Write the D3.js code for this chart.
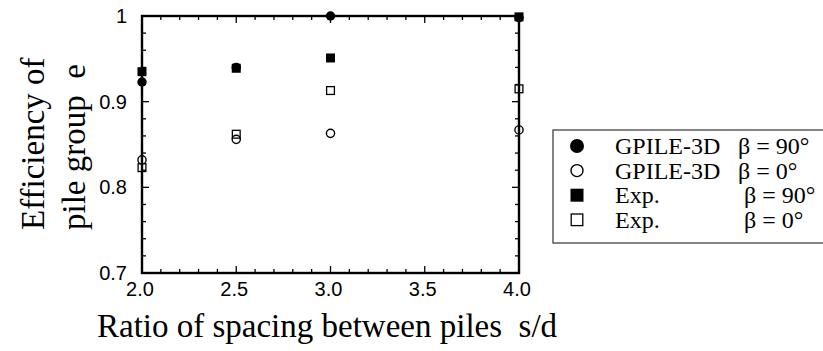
<!DOCTYPE html>
<html>
<head>
<meta charset="utf-8">
<script src="https://cdn.jsdelivr.net/npm/d3@7"></script>
<style>
  body { margin: 0; background: #fff; }
  svg { display: block; }
</style>
</head>
<body>
<svg id="chart" width="823" height="351"></svg>
<script>
// Pile spacing ratios s/d where the group efficiency was evaluated
const spacing = [2.0, 2.5, 3.0, 4.0];
// Group efficiency e for each series
const gpile90 = [0.923, 0.940, 1.000, 0.998];
const gpile0  = [0.832, 0.856, 0.863, 0.867];
const exp90   = [0.935, 0.939, 0.951, 0.999];
const exp0    = [0.823, 0.862, 0.913, 0.915];
// Axis tick values
const xMajor = [2.0, 2.5, 3.0, 3.5, 4.0];
const yMajor = [0.7, 0.8, 0.9, 1.0];
// Legend entries
const legendNames  = ["GPILE-3D", "GPILE-3D", "Exp.", "Exp."];
const legendAngles = ["β = 90°", "β = 0°", "β = 90°", "β = 0°"];

const svg = d3.select("#chart");
const plotL = 142, plotR = 519, plotT = 16, plotB = 273;

const x = d3.scaleLinear().domain([2.0, 4.0]).range([plotL, plotR]);
const y = d3.scaleLinear().domain([0.7, 1.0]).range([plotB, plotT]);

const xMinor = d3.range(20, 41).map(v => v / 10).filter(v => !xMajor.some(m => Math.abs(m - v) < 1e-9));
const yMinor = d3.range(35, 51).map(v => v / 50).filter(v => !yMajor.some(m => Math.abs(m - v) < 1e-9));

// Inward ticks on all four sides of the frame
const tickGroup = svg.append("g").attr("stroke", "#000").attr("stroke-width", 1.3);
function xticks(vals, len) {
  vals.forEach(v => {
    tickGroup.append("line").attr("x1", x(v)).attr("x2", x(v)).attr("y1", plotB).attr("y2", plotB - len);
    tickGroup.append("line").attr("x1", x(v)).attr("x2", x(v)).attr("y1", plotT).attr("y2", plotT + len);
  });
}
function yticks(vals, len) {
  vals.forEach(v => {
    tickGroup.append("line").attr("y1", y(v)).attr("y2", y(v)).attr("x1", plotL).attr("x2", plotL + len);
    tickGroup.append("line").attr("y1", y(v)).attr("y2", y(v)).attr("x1", plotR).attr("x2", plotR - len);
  });
}
xticks(xMinor, 4); xticks(xMajor, 7);
yticks(yMinor, 4); yticks(yMajor, 7);

// Frame
svg.append("rect")
  .attr("x", plotL).attr("y", plotT)
  .attr("width", plotR - plotL).attr("height", plotB - plotT)
  .attr("fill", "none").attr("stroke", "#000").attr("stroke-width", 2.4);

// Tick labels
const tickFont = "'Liberation Sans', Arial, sans-serif";
svg.append("g").selectAll("text").data(xMajor).join("text")
  .attr("x", d => x(d) - 2).attr("y", plotB + 23)
  .attr("text-anchor", "middle")
  .attr("font-family", tickFont).attr("font-size", 20)
  .text(d => d.toFixed(1));
svg.append("g").selectAll("text").data(yMajor).join("text")
  .attr("x", plotL - 15).attr("y", d => y(d) + 7)
  .attr("text-anchor", "end")
  .attr("font-family", tickFont).attr("font-size", 20)
  .text(d => d === 1 ? "1" : d.toFixed(1));

// Axis titles
const serif = "'Liberation Serif', 'Times New Roman', serif";
svg.append("text")
  .attr("x", 97).attr("y", 337)
  .attr("font-family", serif).attr("font-size", 33)
  .attr("xml:space", "preserve")
  .text("Ratio of spacing between piles  s/d");
const yTitle = svg.append("g").attr("font-family", serif).attr("font-size", 33);
yTitle.append("text")
  .attr("transform", "translate(44,230) rotate(-90)")
  .text("Efficiency of");
yTitle.append("text")
  .attr("transform", "translate(85,230) rotate(-90)")
  .attr("xml:space", "preserve")
  .text("pile group  e");

// Markers
const pts = (vals) => spacing.map((s, i) => ({ s, v: vals[i] }));
const circR = 4.7, sq = 9;
const marks = svg.append("g");
marks.selectAll(".c90").data(pts(gpile90)).join("circle")
  .attr("cx", d => x(d.s)).attr("cy", d => y(d.v)).attr("r", circR)
  .attr("fill", "#000");
marks.selectAll(".c0").data(pts(gpile0)).join("circle")
  .attr("cx", d => x(d.s)).attr("cy", d => y(d.v)).attr("r", circR - 0.6)
  .attr("fill", "none").attr("stroke", "#000").attr("stroke-width", 1.4);
marks.selectAll(".s90").data(pts(exp90)).join("rect")
  .attr("x", d => x(d.s) - sq / 2).attr("y", d => y(d.v) - sq / 2)
  .attr("width", sq).attr("height", sq).attr("fill", "#000");
marks.selectAll(".s0").data(pts(exp0)).join("rect")
  .attr("x", d => x(d.s) - sq / 2 + 0.6).attr("y", d => y(d.v) - sq / 2 + 0.6)
  .attr("width", sq - 1.2).attr("height", sq - 1.2)
  .attr("fill", "none").attr("stroke", "#000").attr("stroke-width", 1.3);

// Legend
const lg = svg.append("g");
lg.append("rect")
  .attr("x", 553).attr("y", 130).attr("width", 300).attr("height", 113)
  .attr("fill", "#fff").attr("stroke", "#333").attr("stroke-width", 1.2);
const rowY = i => 146 + i * 24.6;
const mx = 577;
lg.append("circle").attr("cx", mx).attr("cy", rowY(0)).attr("r", 7).attr("fill", "#000");
lg.append("circle").attr("cx", mx).attr("cy", rowY(1)).attr("r", 6)
  .attr("fill", "none").attr("stroke", "#000").attr("stroke-width", 1.4);
lg.append("rect").attr("x", mx - 6.5).attr("y", rowY(2) - 6.5).attr("width", 13).attr("height", 13).attr("fill", "#000");
lg.append("rect").attr("x", mx - 5.8).attr("y", rowY(3) - 5.8).attr("width", 11.6).attr("height", 11.6)
  .attr("fill", "none").attr("stroke", "#000").attr("stroke-width", 1.3);
legendNames.forEach((n, i) => {
  lg.append("text").attr("x", 615).attr("y", rowY(i) + 8)
    .attr("font-family", serif).attr("font-size", 24).text(n);
  lg.append("text").attr("x", i < 2 ? 738 : 744).attr("y", rowY(i) + 8)
    .attr("font-family", serif).attr("font-size", 24).text(legendAngles[i]);
});
</script>
</body>
</html>
